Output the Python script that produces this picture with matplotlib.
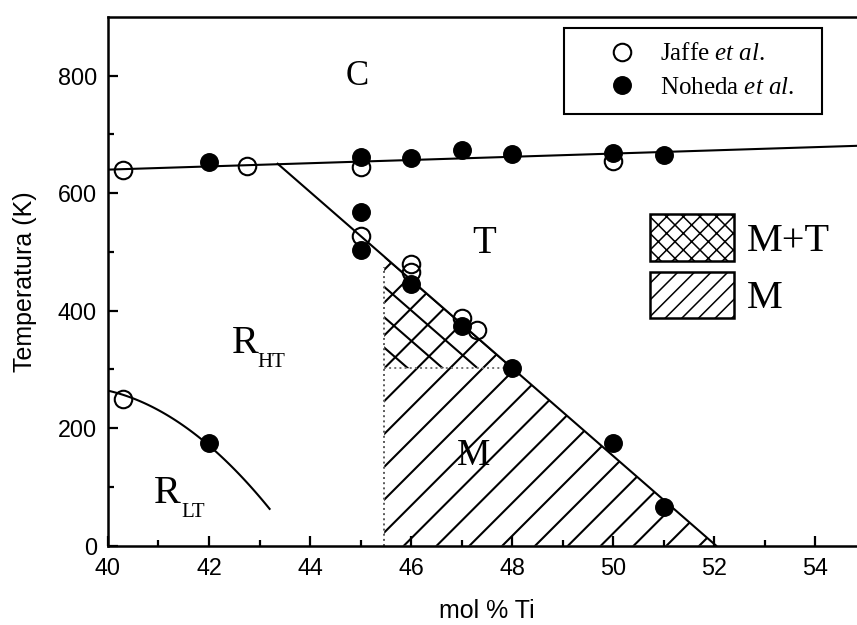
import numpy as np
import matplotlib
matplotlib.use("Agg")
import matplotlib.pyplot as plt
from matplotlib.patches import Polygon, Rectangle
from matplotlib.lines import Line2D

# Transition temperatures (K) against mol % Ti
jaffe_x = [40.3, 42.75, 45.0, 45.0, 46.0, 46.0, 47.0, 47.3, 50.0, 40.3]
jaffe_y = [640, 646, 645, 527, 480, 466, 388, 367, 655, 250]

noheda_x = [42.0, 45.0, 45.0, 45.0, 46.0, 46.0, 47.0, 48.0, 50.0, 51.0,
            47.0, 48.0, 50.0, 51.0, 42.0]
noheda_y = [653, 662, 568, 503, 445, 660, 673, 666, 668, 665,
            373, 302, 175, 66, 174]

# Phase boundaries
cubic_x = [40.0, 55.0]
cubic_y = [640, 681]
tetra_x = [43.36, 52.04]
tetra_y = [650, 0]
rlt_x = [40.0, 40.3, 41.0, 41.5, 42.0, 42.5, 43.0, 43.2]
rlt_y = [268, 252, 228, 205, 174, 129, 83, 62]

# Monoclinic region limits
mono_x = 45.47
mono_t = 302

plt.rcParams['font.family'] = ['Liberation Sans', 'DejaVu Sans']
plt.rcParams['mathtext.fontset'] = 'custom'
plt.rcParams['mathtext.rm'] = 'Liberation Serif'
plt.rcParams['mathtext.it'] = 'Liberation Serif:italic'
plt.rcParams['hatch.linewidth'] = 1.1

fig = plt.figure(figsize=(8.57, 6.25), dpi=100)
ax = fig.add_axes([0.126, 0.127, 0.874, 0.846])
ax.set_xlim(40, 54.83)
ax.set_ylim(0, 900)


def hatch(poly_pts, x_start, slope, y_start, step, n):
    # draw parallel lines and clip them to the region outline
    region = Polygon(poly_pts, closed=True, fill=False, lw=0)
    ax.add_patch(region)
    for x0 in x_start + step * np.arange(-n, n + 1):
        x1 = x0 + (900 - y_start) / slope
        ln, = ax.plot([x0, x1], [y_start, 900], color='k', lw=1.5)
        ln.set_clip_path(region)


top = np.interp(mono_x, tetra_x, tetra_y)
x_end = np.interp(0, tetra_y[::-1], tetra_x[::-1])
x_mt = np.interp(mono_t, tetra_y[::-1], tetra_x[::-1])
slope_t = (tetra_y[1] - tetra_y[0]) / (tetra_x[1] - tetra_x[0])

# M region: single hatch; M+T region: crossed
hatch([(mono_x, 0), (mono_x, top), (x_end, 0)], 46.51, 86.0, 0, 0.65, 12)
hatch([(mono_x, mono_t), (mono_x, top), (x_mt, mono_t)], x_mt, slope_t, mono_t, 0.69, 6)

ax.plot([mono_x, mono_x], [0, 474], ls=':', color='0.35', lw=1.4)
ax.plot([mono_x, x_mt], [mono_t, mono_t], ls=':', color='0.45', lw=1.4)

ax.plot(cubic_x, cubic_y, color='k', lw=1.5)
ax.plot(tetra_x, tetra_y, color='k', lw=1.5)
c = np.polyfit(rlt_x, rlt_y, 2)
xs = np.linspace(rlt_x[0], rlt_x[-1], 80)
ax.plot(xs, np.polyval(c, xs), color='k', lw=1.5)

ax.plot(jaffe_x, jaffe_y, 'o', ms=12.6, mfc='none', mec='k', mew=1.5)
ax.plot(noheda_x, noheda_y, 'o', ms=12.6, mfc='k', mec='k')

# phase labels
serif = 'Liberation Serif'
ax.text(44.71, 784, 'C', family=serif, fontsize=25)
ax.text(47.21, 498, 'T', family=serif, fontsize=28)
ax.text(42.46, 328, 'R', family=serif, fontsize=29)
ax.text(42.95, 304, 'HT', family=serif, fontsize=15)
ax.text(40.91, 73, 'R', family=serif, fontsize=29)
ax.text(41.45, 49, 'LT', family=serif, fontsize=15)
ax.text(46.91, 137, 'M', family=serif, fontsize=27)

# key for the hatched regions
ax.add_patch(Rectangle((0.7236, 0.5383), 0.112, 0.0886, transform=ax.transAxes,
                       fill=False, hatch='xx', lw=1.8))
ax.add_patch(Rectangle((0.7236, 0.431), 0.112, 0.0867, transform=ax.transAxes,
                       fill=False, hatch='//', lw=1.8))
ax.text(0.853, 0.557, 'M+T', transform=ax.transAxes, family=serif, fontsize=29)
ax.text(0.853, 0.45, 'M', transform=ax.transAxes, family=serif, fontsize=29)

handles = [
    Line2D([], [], ls='none', marker='o', ms=12.6, mfc='none', mec='k', mew=1.5),
    Line2D([], [], ls='none', marker='o', ms=12.6, mfc='k', mec='k'),
]
leg = ax.legend(handles, ['Jaffe $\\mathit{et\\ al.}$', 'Noheda $\\mathit{et\\ al.}$'],
                loc='upper left', bbox_to_anchor=(0.609, 0.819, 0.344, 0.160),
                mode='expand', borderaxespad=0,
                fancybox=False, edgecolor='k', framealpha=1, numpoints=1,
                prop={'family': serif, 'size': 18}, borderpad=0.6,
                handlelength=3.4, handletextpad=-0.15, labelspacing=0.45)
leg.get_frame().set_linewidth(1.5)

ax.set_xticks(np.arange(40, 55, 2))
ax.set_xticks(np.arange(41, 55, 2), minor=True)
ax.set_yticks(np.arange(0, 801, 200))
ax.set_yticks(np.arange(100, 900, 200), minor=True)
ax.tick_params(which='both', direction='in', labelsize=16.8, width=1.6, pad=8)
ax.tick_params(which='major', length=7.2)
ax.tick_params(which='minor', length=4.4)
ax.spines['right'].set_visible(False)
for s in ('left', 'bottom', 'top'):
    ax.spines[s].set_linewidth(1.8)

ax.set_xlabel('mol % Ti', fontsize=18, va='top')
ax.xaxis.set_label_coords(0.506, -0.10)
ax.set_ylabel('Temperatura (K)', fontsize=18)
ax.yaxis.set_label_coords(-0.095, 0.5)

fig.savefig('out.png', dpi=100)
